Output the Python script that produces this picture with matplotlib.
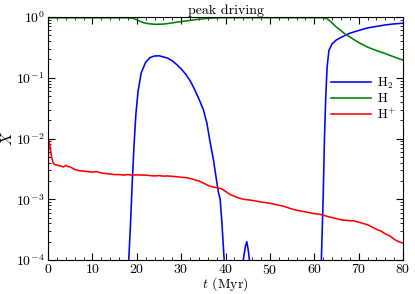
import numpy as np
import matplotlib
matplotlib.use("Agg")
import matplotlib.pyplot as plt
from matplotlib.ticker import MultipleLocator, LogLocator, FixedLocator, FixedFormatter, NullFormatter

plt.rcParams['font.family'] = 'serif'
plt.rcParams['font.serif'] = ['cmr10', 'DejaVu Serif']
plt.rcParams['mathtext.fontset'] = 'cm'
plt.rcParams['axes.unicode_minus'] = False

# H2 fraction (NaN separates the three episodes)
t_h2 = [18.2, 18.6, 19.0, 19.4, 19.8, 20.3, 21.0, 22.0, 23.0, 24.0, 25.0, 26.0, 27.0, 28.0,
        29.0, 30.0, 31.0, 32.0, 33.0, 34.0, 35.0, 35.8, 36.5, 37.3, 38.0, 38.4, 38.8, 39.2, 39.7,
        np.nan,
        44.0, 44.5, 44.8, 45.1, 45.4,
        np.nan,
        61.6, 62.0, 62.3, 62.6, 62.9, 63.3, 64.0, 65.0, 66.0, 67.0, 68.0, 70.0, 72.0, 74.0,
        76.0, 78.0, 80.0]
x_h2 = [1e-4, 4e-4, 2e-3, 8e-3, 0.025, 0.06, 0.12, 0.18, 0.215, 0.228, 0.23, 0.22, 0.21, 0.19,
        0.165, 0.14, 0.115, 0.09, 0.065, 0.045, 0.03, 0.018, 0.009, 4.4e-3, 2e-3, 1.3e-3, 1.0e-3, 4e-4, 1e-4,
        np.nan,
        1e-4, 1.7e-4, 2e-4, 1.5e-4, 1e-4,
        np.nan,
        1e-4, 1e-3, 0.01, 0.05, 0.15, 0.28, 0.36, 0.42, 0.46, 0.5, 0.54, 0.6, 0.66, 0.7,
        0.74, 0.77, 0.79]

# atomic H fraction
t_h = [0, 18, 19, 20, 21, 22, 23, 24, 25, 26, 27, 28, 30, 32, 34, 36, 38, 40, 62, 63, 64,
       65, 66, 67, 68, 70, 72, 74, 76, 78, 80]
x_h = [0.97, 0.97, 0.96, 0.9, 0.83, 0.79, 0.77, 0.76, 0.76, 0.765, 0.78, 0.8, 0.84, 0.88,
       0.92, 0.95, 0.97, 0.975, 0.975, 0.93, 0.8, 0.68, 0.6, 0.52, 0.47, 0.38, 0.32, 0.28,
       0.25, 0.22, 0.195]

# H+ fraction
t_hp = [0, 0.1, 0.25, 0.5, 0.8, 1.2, 1.6, 2, 3, 3.5, 4, 4.5, 5, 6, 7, 8, 9, 10, 11, 12, 13,
        14, 15, 16, 17, 18, 19, 20, 21, 22, 23, 24, 25, 26, 27, 28, 29, 30, 31, 32, 33, 34,
        35, 36, 37, 38, 39, 40, 41, 42, 43, 44, 45, 46, 47, 48, 49, 50, 51, 52, 53, 54, 55,
        56, 57, 58, 59, 60, 61, 62, 63, 64, 65, 66, 67, 68, 69, 70, 71, 72, 73, 74, 75, 76,
        77, 78, 79, 80]
x_hp = [3e-5, 9.5e-3, 9e-3, 7e-3, 5e-3, 3.9e-3, 3.7e-3, 3.65e-3, 3.5e-3, 3.4e-3, 3.6e-3,
        3.45e-3, 3.4e-3, 3.1e-3, 2.95e-3, 2.9e-3, 2.85e-3, 2.8e-3, 2.85e-3, 2.7e-3, 2.65e-3,
        2.6e-3, 2.55e-3, 2.55e-3, 2.5e-3, 2.55e-3, 2.5e-3, 2.52e-3, 2.5e-3, 2.5e-3, 2.45e-3,
        2.42e-3, 2.45e-3, 2.4e-3, 2.42e-3, 2.38e-3, 2.35e-3, 2.3e-3, 2.28e-3, 2.2e-3, 2.1e-3,
        2.0e-3, 1.85e-3, 1.7e-3, 1.6e-3, 1.55e-3, 1.5e-3, 1.35e-3, 1.2e-3, 1.12e-3, 1.05e-3,
        1.0e-3, 0.98e-3, 0.96e-3, 0.93e-3, 0.9e-3, 0.88e-3, 0.86e-3, 0.83e-3, 0.8e-3, 0.77e-3,
        0.73e-3, 0.69e-3, 0.66e-3, 0.64e-3, 0.62e-3, 0.6e-3, 0.58e-3, 0.57e-3, 0.55e-3,
        0.52e-3, 0.5e-3, 0.48e-3, 0.46e-3, 0.45e-3, 0.445e-3, 0.44e-3, 0.42e-3, 0.4e-3,
        0.38e-3, 0.35e-3, 0.32e-3, 0.3e-3, 0.27e-3, 0.25e-3, 0.22e-3, 0.2e-3, 0.19e-3]

xticks = [0, 10, 20, 30, 40, 50, 60, 70, 80]
yticks = [1e-4, 1e-3, 1e-2, 1e-1, 1e0]
ylabels = [r'$\mathbf{10^{-4}}$', r'$\mathbf{10^{-3}}$', r'$\mathbf{10^{-2}}$',
           r'$\mathbf{10^{-1}}$', r'$\mathbf{10^{0}}$']

fig = plt.figure(figsize=(4.15, 2.94), dpi=100)
ax = fig.add_axes([48/415, 34/294, 355/415, 243/294])

ax.plot(t_h2, x_h2, color='#0000ff', lw=1.15, label=r'$\mathrm{H_2}$')
ax.plot(t_h, x_h, color='#008000', lw=1.15, label=r'$\mathrm{H}$')
ax.plot(t_hp, x_hp, color='#ff0000', lw=1.15, label=r'$\mathrm{H^{+}}$')

ax.set_yscale('log')
ax.set_xlim(0, 80)
ax.set_ylim(1e-4, 1)

ax.xaxis.set_major_locator(FixedLocator(xticks))
ax.xaxis.set_major_formatter(FixedFormatter([r'$\mathbf{%d}$' % v for v in xticks]))
ax.xaxis.set_minor_locator(MultipleLocator(2))
ax.yaxis.set_major_locator(FixedLocator(yticks))
ax.yaxis.set_major_formatter(FixedFormatter(ylabels))
ax.yaxis.set_minor_locator(LogLocator(base=10, subs=np.arange(2, 10)))
ax.yaxis.set_minor_formatter(NullFormatter())

ax.tick_params(which='both', direction='in', top=True, right=True, labelsize=10)
ax.tick_params(axis='x', pad=2.5)
ax.tick_params(axis='y', pad=2.5)
ax.tick_params(which='major', length=5, width=0.8)
ax.tick_params(which='minor', length=2.5, width=0.6)
for s in ax.spines.values():
    s.set_linewidth(0.8)

ax.set_xlabel(r'$t$ (Myr)', fontsize=10, va='top')
ax.xaxis.set_label_coords(0.5, -0.064)
ax.set_ylabel(r'$X$', fontsize=11)
ax.yaxis.set_label_coords(-0.093, 0.5)
ax.set_title('peak driving', fontsize=10, pad=2)

ax.legend(loc='center right', bbox_to_anchor=(1.015, 0.665), frameon=False, fontsize=9.5,
          handlelength=3.0, handletextpad=0.5, labelspacing=0.12)

fig.savefig('out.png', dpi=100)
